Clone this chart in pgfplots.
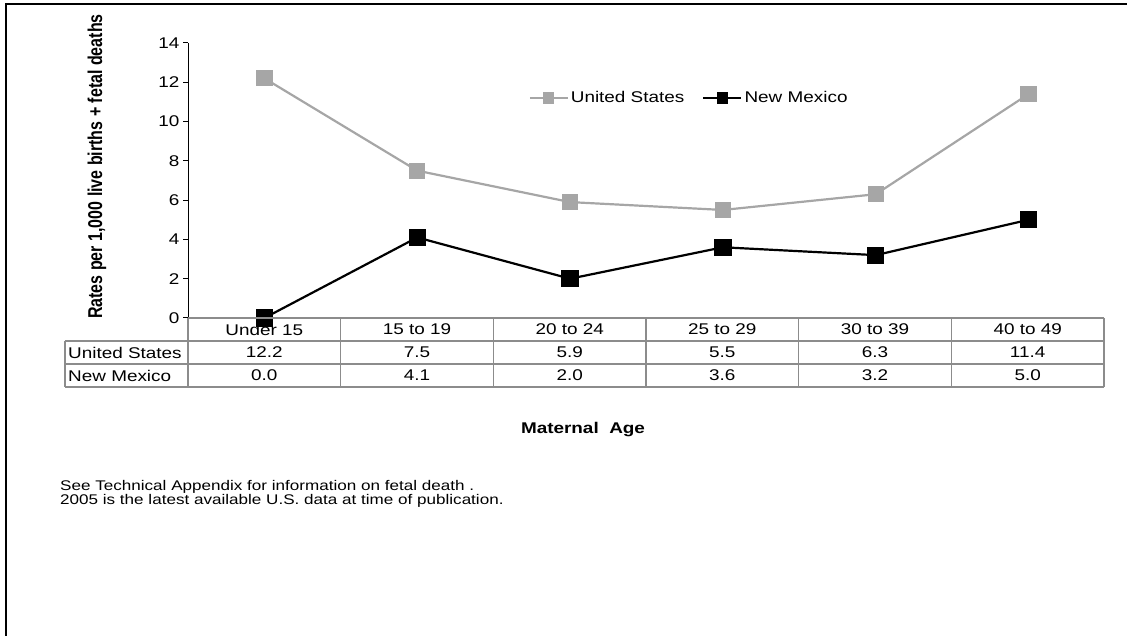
\documentclass[border=0pt]{standalone}
\usepackage{pgfplots}
\usepackage{pgfplotstable}
\pgfplotsset{compat=1.18}
\usepackage{fontspec}
\setmainfont{Liberation Sans}[FakeStretch=1.22]
\newfontfamily\ylabfont{Liberation Sans}

\definecolor{usgrey}{RGB}{166,166,166}
\definecolor{gridgrey}{RGB}{140,140,140}
\newcommand\f{\fontsize{15.5}{17}\selectfont}

% rates per 1,000 live births + fetal deaths
\pgfplotstableread[col sep=comma]{
x,age,us,nm
0,Under 15,12.2,0.0
1,15 to 19,7.5,4.1
2,20 to 24,5.9,2.0
3,25 to 29,5.5,3.6
4,30 to 39,6.3,3.2
5,40 to 49,11.4,5.0
}\data

\begin{document}
\begin{tikzpicture}[x=1pt,y=1pt]
\useasboundingbox (0,0) rectangle (1127,636);
% outer frame (top and left only)
\draw[line width=1.5pt] (6,-5) -- (6,632) -- (1135,632);

\begin{axis}[
  at={(188pt,318pt)}, anchor=south west,
  scale only axis, width=917pt, height=275pt,
  xmin=-0.5, xmax=5.5, ymin=0, ymax=14,
  axis x line=none, axis y line*=left,
  axis line style={-, black, line width=1pt},
  ytick={0,2,...,14},
  tick align=outside, major tick length=5pt,
  y tick style={black, line width=1pt},
  tick label style={font=\f},
  /pgf/number format/assume math mode=true,
  clip=false,
  legend columns=2,
  legend cell align=left,
  legend style={draw=none, fill=none, font=\f,
    at={(0.368,0.80)}, anchor=west,
    /tikz/every even column/.append style={column sep=16pt}},
  legend image code/.code={%
    \draw[#1, mark size=4.5pt, mark repeat=2, mark phase=2]
      plot coordinates {(0pt,0pt) (19pt,0pt) (38pt,0pt)};},
]
\addplot[color=usgrey, line width=2.2pt, mark=square*, mark size=7pt,
  mark options={solid}] table[x=x, y=us] {\data};
\addlegendentry{United States}
\addplot[color=black, line width=2.2pt, mark=square*, mark size=7.5pt,
  mark options={solid}] table[x=x, y=nm] {\data};
\addlegendentry{New Mexico}
\end{axis}

% data table under the plot
\begin{scope}[gridgrey, line width=1.3pt]
  \draw (188,318) -- (1104,318);
  \draw (65,295) -- (1104,295);
  \draw (65,272) -- (1104,272);
  \draw (65,249) -- (1104,249);
  \draw (65,295) -- (65,249);
  \foreach \i in {0,...,6} {
    \draw ({188+\i*152.67},318) -- ({188+\i*152.67},249);
  }
\end{scope}
\node[anchor=west, font=\f, inner sep=0pt] at (68,283.5) {United States};
\node[anchor=west, font=\f, inner sep=0pt] at (68,260.5) {New Mexico};
\foreach \i in {0,...,5} {
  \pgfplotstablegetelem{\i}{age}\of\data
  \node[font=\f, inner sep=0pt] at ({188+(\i+0.5)*152.67},306.5) {\pgfplotsretval};
  \pgfplotstablegetelem{\i}{us}\of\data
  \node[font=\f, inner sep=0pt] at ({188+(\i+0.5)*152.67},283.5) {\pgfplotsretval};
  \pgfplotstablegetelem{\i}{nm}\of\data
  \node[font=\f, inner sep=0pt] at ({188+(\i+0.5)*152.67},260.5) {\pgfplotsretval};
}

% axis titles
\node[rotate=90, font=\ylabfont\bfseries\fontsize{16}{18}\selectfont]
  at (97,469.5) {\scalebox{1}[1.25]{Rates per 1,000 live births + fetal deaths}};
\node[font=\bfseries\f] at (583,206) {Maternal\ \ Age};

% footnotes
\node[anchor=north west, align=left, inner sep=0pt,
  font=\fontsize{14}{14.5}\selectfont] at (60,156)
  {See Technical Appendix for information on fetal death .\\
   2005 is the latest available U.S. data at time of publication.};
\end{tikzpicture}
\end{document}
